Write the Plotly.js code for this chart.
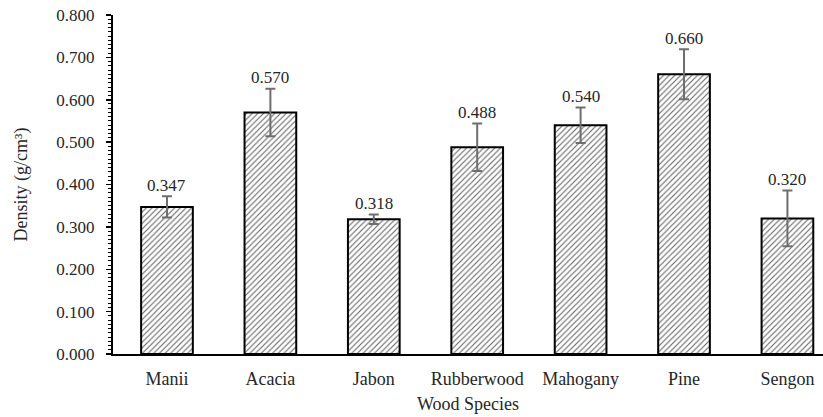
<!DOCTYPE html>
<html>
<head>
<meta charset="utf-8">
<script src="https://cdn.plot.ly/plotly-3.0.1.min.js"></script>
<style>html,body{margin:0;padding:0;background:#fff;}#chart{width:823px;height:417px;}</style>
</head>
<body>
<div id="chart"></div>
<script>
const species = ["Manii", "Acacia", "Jabon", "Rubberwood", "Mahogany", "Pine", "Sengon"];
const density = [0.347, 0.570, 0.318, 0.488, 0.540, 0.660, 0.320];
const stdev = [0.025, 0.056, 0.011, 0.056, 0.042, 0.059, 0.066];
const valueLabels = ["0.347", "0.570", "0.318", "0.488", "0.540", "0.660", "0.320"];
const yTicks = [0, 0.1, 0.2, 0.3, 0.4, 0.5, 0.6, 0.7, 0.8];

const FONT = "Liberation Serif, Times New Roman, serif";

const trace = {
  type: "bar",
  x: species,
  y: density,
  width: 0.5,
  marker: {
    color: "#ffffff",
    line: {color: "#000000", width: 2},
    pattern: {shape: "/", fgcolor: "#666666", bgcolor: "#ffffff", size: 4, solidity: 0.28}
  },
  error_y: {type: "data", array: stdev, visible: true, color: "#6e6e6e", thickness: 2, width: 5},
  hoverinfo: "skip"
};

const annotations = species.map((s, i) => ({
  x: s, y: density[i] + stdev[i], xref: "x", yref: "y",
  text: valueLabels[i], showarrow: false, yanchor: "middle", yshift: 11,
  font: {family: FONT, size: 17, color: "#262626"}
}));

const layout = {
  width: 823, height: 417,
  margin: {l: 113, r: 0, t: 15, b: 63},
  paper_bgcolor: "#ffffff", plot_bgcolor: "#ffffff",
  showlegend: false,
  font: {family: FONT, size: 17, color: "#262626"},
  xaxis: {
    type: "category",
    range: [-0.522, 6.344],
    showline: true, linecolor: "#000000", linewidth: 2,
    ticks: "", showgrid: false, zeroline: false,
    ticklabelstandoff: 7,
    tickfont: {family: FONT, size: 18, color: "#262626"},
    title: {text: "Wood Species", font: {family: FONT, size: 18, color: "#262626"}, standoff: 10}
  },
  yaxis: {
    range: [0, 0.8],
    tickvals: yTicks,
    tickformat: ".3f",
    showline: true, linecolor: "#000000", linewidth: 2,
    ticks: "outside", ticklen: 5, tickwidth: 1.5, tickcolor: "#000000",
    minor: {dtick: 0.01, ticks: "outside", ticklen: 3, tickwidth: 1, tickcolor: "#000000", showgrid: false},
    showgrid: false, zeroline: false,
    ticklabelstandoff: 8,
    tickfont: {family: FONT, size: 17, color: "#262626"},
    title: {text: "Density (g/cm³)", font: {family: FONT, size: 18, color: "#262626"}, standoff: 24}
  },
  annotations: annotations
};

Plotly.newPlot("chart", [trace], layout, {staticPlot: true, displayModeBar: false});
</script>
</body>
</html>
